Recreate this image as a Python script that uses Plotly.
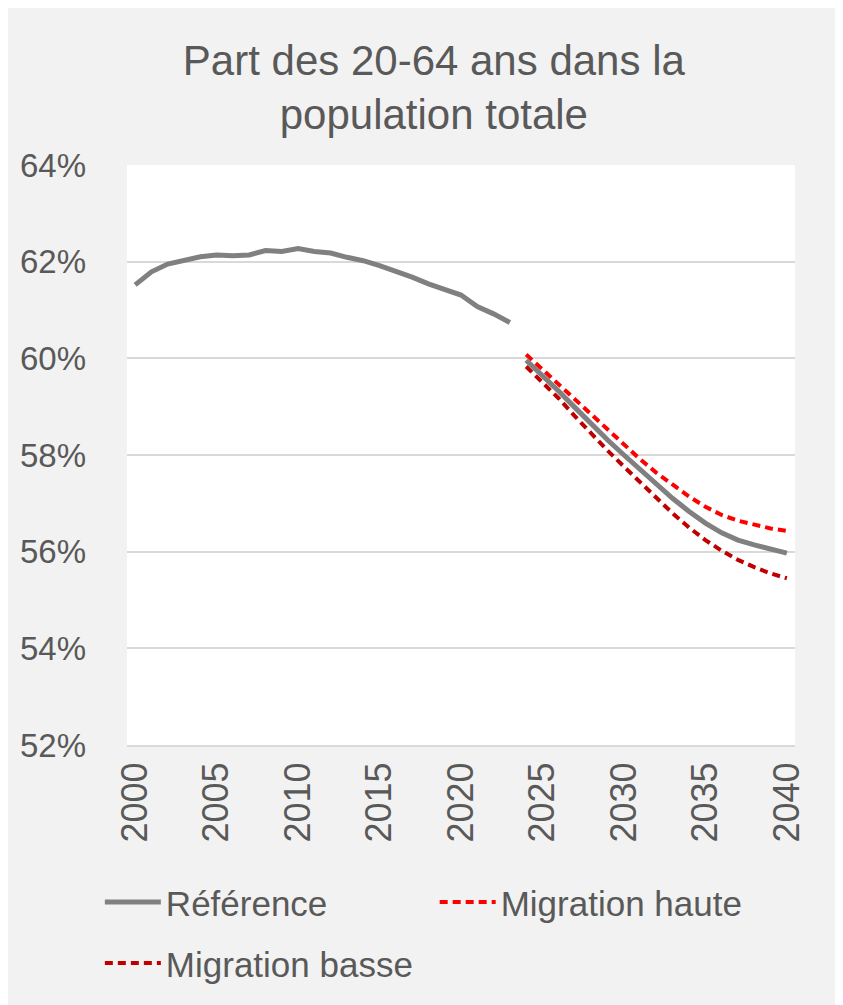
import plotly.graph_objects as go

FONT = "Liberation Sans, Arial, sans-serif"
TXT = "#595959"

# historique (référence)
years_hist = list(range(2000, 2024))
ref_hist = [61.52, 61.79, 61.95, 62.03, 62.10, 62.14, 62.12, 62.14, 62.23, 62.21,
            62.27, 62.21, 62.18, 62.09, 62.02, 61.92, 61.81, 61.68, 61.54, 61.42,
            61.31, 61.07, 60.92, 60.74]

# projections
years_proj = list(range(2024, 2041))
ref_proj = [59.96, 59.65, 59.32, 58.98, 58.64, 58.31, 58.00, 57.69, 57.40, 57.10,
            56.83, 56.59, 56.39, 56.24, 56.14, 56.05, 55.97]
mig_haute = [60.08, 59.77, 59.44, 59.13, 58.82, 58.51, 58.20, 57.91, 57.63, 57.38,
             57.14, 56.93, 56.76, 56.64, 56.55, 56.48, 56.43]
mig_basse = [59.83, 59.51, 59.17, 58.80, 58.44, 58.09, 57.76, 57.43, 57.10, 56.79,
             56.50, 56.24, 56.02, 55.83, 55.68, 55.55, 55.45]

y_ticks = [52, 54, 56, 58, 60, 62, 64]
x_ticks = list(range(2000, 2041, 5))

fig = go.Figure()
fig.add_trace(go.Scatter(x=years_hist, y=ref_hist, mode="lines", name="Référence",
                         legendgroup="ref", line=dict(color="#808080", width=5)))
fig.add_trace(go.Scatter(x=years_proj, y=mig_haute, mode="lines", name="Migration haute",
                         legend="legend3",
                         line=dict(color="#ff0000", width=4, dash="8px,5px")))
fig.add_trace(go.Scatter(x=years_proj, y=mig_basse, mode="lines", name="Migration basse",
                         legend="legend2",
                         line=dict(color="#c00000", width=4, dash="8px,5px")))
fig.add_trace(go.Scatter(x=years_proj, y=ref_proj, mode="lines", name="Référence",
                         legendgroup="ref", showlegend=False,
                         line=dict(color="#808080", width=5)))

leg = dict(orientation="h", xref="container", yref="container", xanchor="left",
           yanchor="middle", itemwidth=56, bgcolor="rgba(0,0,0,0)",
           font=dict(family=FONT, color=TXT, size=35))

fig.update_layout(
    width=835, height=997,
    paper_bgcolor="#f2f2f2", plot_bgcolor="#ffffff",
    margin=dict(l=117, r=48, t=157, b=260),
    font=dict(family=FONT, color=TXT, size=34),
    title=dict(text="Part des 20-64 ans dans la<br>population totale",
               x=0.51, xanchor="center", y=0.933, yanchor="top",
               font=dict(family=FONT, color=TXT, size=42)),
    showlegend=True,
    legend=dict(leg, x=0.110, y=0.103),
    legend3=dict(leg, x=0.511, y=0.103),
    legend2=dict(leg, x=0.110, y=0.042),
)
fig.update_xaxes(range=[1999.5, 2040.5], tickvals=x_ticks, ticktext=[str(v) for v in x_ticks],
                 tickangle=-90, showgrid=False, showline=True, linecolor="#d9d9d9",
                 linewidth=2, ticks="", zeroline=False, ticklabelstandoff=1,
                 tickfont=dict(size=36))
fig.update_yaxes(range=[52, 64], tickvals=y_ticks, ticktext=[f"{v}%" for v in y_ticks],
                 showgrid=True, gridcolor="#d9d9d9", gridwidth=1.5, zeroline=False,
                 ticks="", ticklabelstandoff=40, tickfont=dict(size=33))

fig.write_html("out.html")
